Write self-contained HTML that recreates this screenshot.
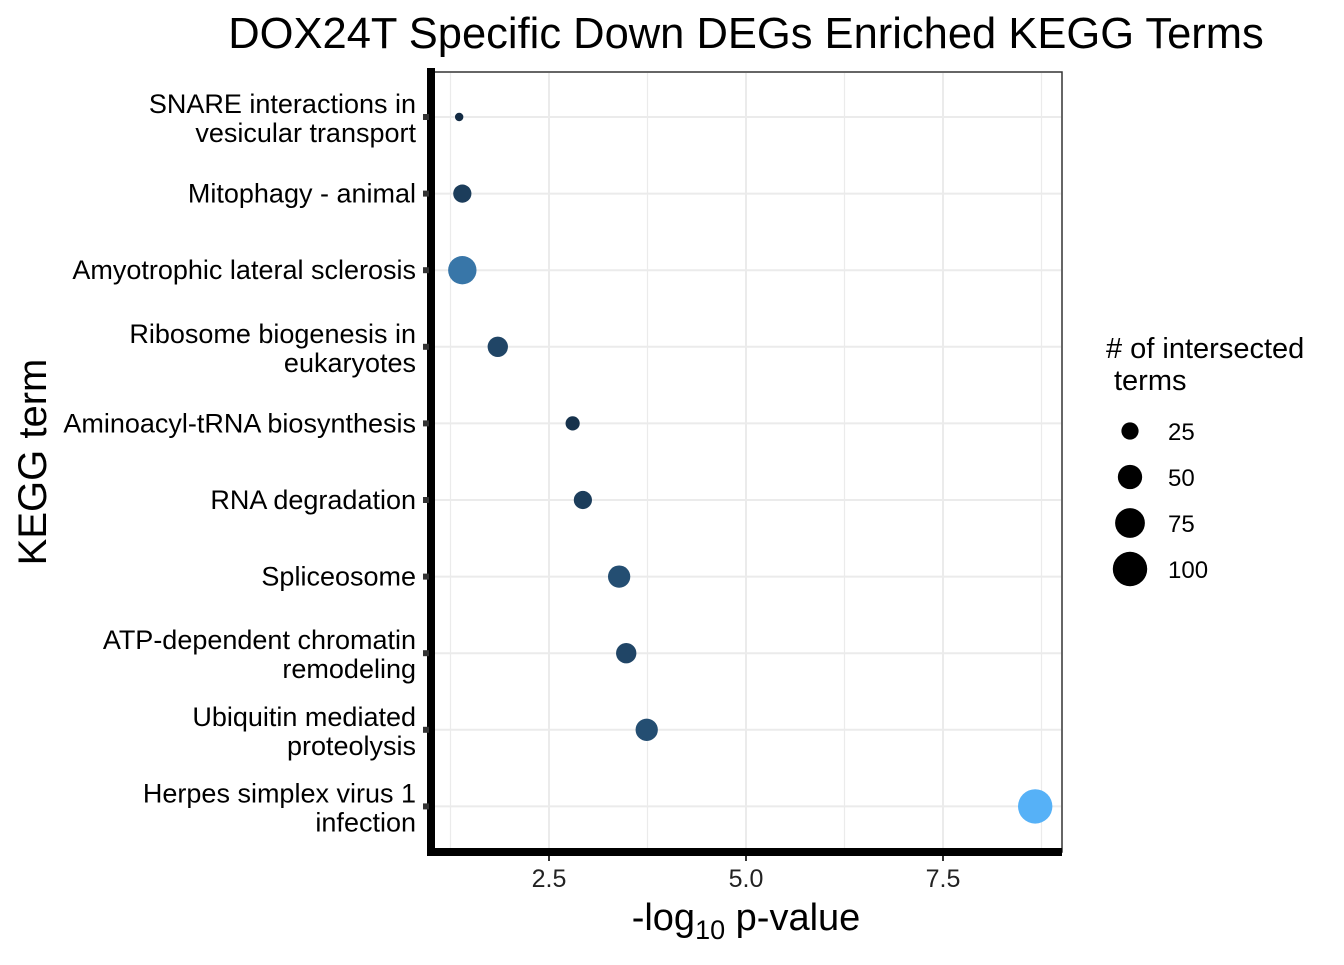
<!DOCTYPE html>
<html><head><meta charset="utf-8"><style>
body{margin:0;background:#fff;font-family:"Liberation Sans",Arial,sans-serif}
</style></head><body>
<svg width="1344" height="960" xmlns="http://www.w3.org/2000/svg" font-family="Liberation Sans, Arial, sans-serif">
<text x="746" y="48" font-size="43.5" text-anchor="middle">DOX24T Specific Down DEGs Enriched KEGG Terms</text>
<rect x="431" y="72" width="631" height="780" fill="#fff" stroke="#333" stroke-width="1.5"/>
<g id="grid"></g>
<line x1="431" y1="68" x2="431" y2="856" stroke="#000" stroke-width="8"/>
<line x1="427" y1="852" x2="1062" y2="852" stroke="#000" stroke-width="8"/>
<g id="ylabels"></g>
<g id="xlabels"></g>
<g id="points"></g>
<text x="746" y="930" font-size="38" text-anchor="middle">-log<tspan font-size="27" dy="9">10</tspan><tspan dy="-9"> p-value</tspan></text>
<text transform="translate(46,462) rotate(-90)" font-size="40" text-anchor="middle">KEGG term</text>
<g>
<text x="1106" y="358" font-size="29"># of intersected</text>
<text x="1114" y="390" font-size="29">terms</text>
<g id="legend"></g>
</g>
</svg>
<script>
const terms=["SNARE interactions in|vesicular transport","Mitophagy - animal","Amyotrophic lateral sclerosis","Ribosome biogenesis in|eukaryotes","Aminoacyl-tRNA biosynthesis","RNA degradation","Spliceosome","ATP-dependent chromatin|remodeling","Ubiquitin mediated|proteolysis","Herpes simplex virus 1|infection"];
const pvals=[1.36,1.40,1.40,1.85,2.80,2.93,3.39,3.48,3.74,8.67];
const counts=[6,28,68,35,17,28,42,35,42,100];
const xTicks=[2.5,5.0,7.5];
const xTickLabels=["2.5","5.0","7.5"];
const legendVals=[25,50,75,100];
const NS="http://www.w3.org/2000/svg";
function xs(v){return 352+v*78.8;}
function ys(i){return 117+i*76.6;}
function rs(n){return 1.72*Math.sqrt(n);}
function col(n){let t=Math.max(0,Math.min(1,(n-6)/(100-6)));t=Math.pow(t,1.4);const a=[0x13,0x2B,0x43],b=[0x56,0xB1,0xF7];
return "rgb("+a.map((c,i)=>Math.round(c+(b[i]-c)*t)).join(",")+")";}
function mk(tag,attrs,parent){const e=document.createElementNS(NS,tag);for(const k in attrs)e.setAttribute(k,attrs[k]);parent.appendChild(e);return e;}
const grid=document.getElementById('grid');
[1.25,2.5,3.75,5,6.25,7.5,8.75].forEach(v=>{const l=mk('line',{x1:xs(v),x2:xs(v),y1:73,y2:851,stroke:'#ebebeb','stroke-width':v%2.5===0?2:1.2},grid);

});
terms.forEach((t,i)=>{const l=mk('line',{x1:432,x2:1061,y1:ys(i),y2:ys(i),stroke:'#ebebeb','stroke-width':2},grid);

});
const yl=document.getElementById('ylabels');
terms.forEach((t,i)=>{const parts=t.split('|');const y=ys(i);
const tk=mk('rect',{x:423,y:y-3,width:6,height:6,fill:'#333'},yl);


parts.forEach((p,j)=>{const yy=parts.length===1?y+9:y-4+j*29;
const e=mk('text',{x:416,y:yy,'font-size':27,'text-anchor':'end'},yl);e.textContent=p;

});});
const xl=document.getElementById('xlabels');
xTicks.forEach((v,i)=>{const tk=mk('line',{x1:xs(v),x2:xs(v),y1:856,y2:861,stroke:'#333','stroke-width':2},xl);


const e=mk('text',{x:xs(v),y:887,'font-size':25,'text-anchor':'middle',fill:'#222'},xl);e.textContent=xTickLabels[i];

});
const pg=document.getElementById('points');
pvals.forEach((v,i)=>{const c=mk('circle',{cx:xs(v),cy:ys(i),r:rs(counts[i]),fill:col(counts[i])},pg);

});
const lg=document.getElementById('legend');
legendVals.forEach((n,i)=>{const y=431+i*46;
const c=mk('circle',{cx:1130,cy:y,r:rs(n),fill:'#000'},lg);


const e=mk('text',{x:1168,y:y+9,'font-size':24},lg);e.textContent=n;

});
</script>
</body></html>
